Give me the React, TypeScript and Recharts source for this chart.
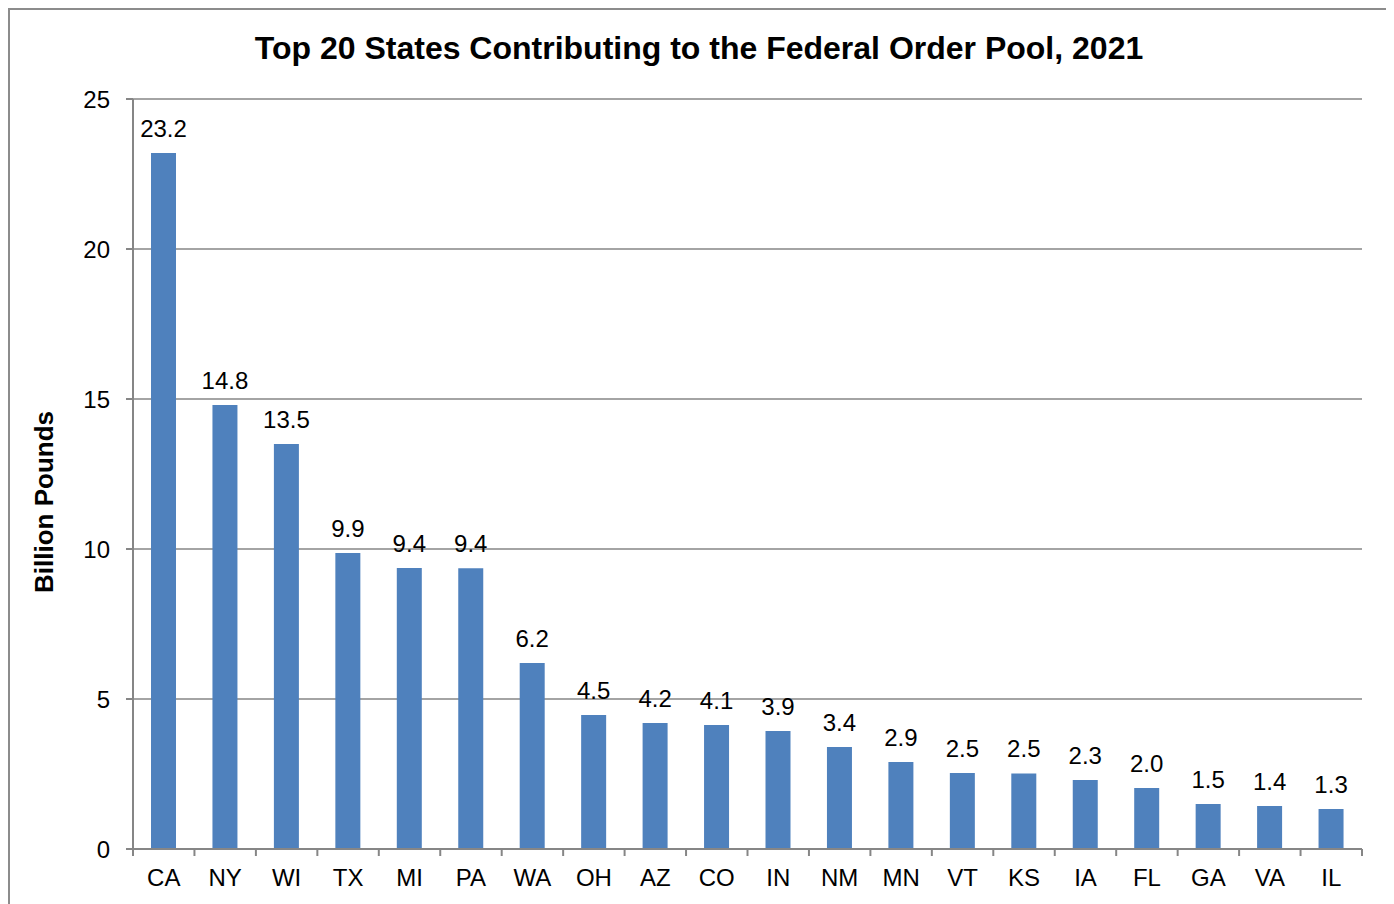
import { BarChart, Bar, CartesianGrid, XAxis, YAxis, LabelList } from "recharts";

const states = ["CA", "NY", "WI", "TX", "MI", "PA", "WA", "OH", "AZ", "CO", "IN", "NM", "MN", "VT", "KS", "IA", "FL", "GA", "VA", "IL"];
const pounds = [23.2, 14.8, 13.5, 9.87, 9.37, 9.36, 6.2, 4.47, 4.2, 4.13, 3.93, 3.4, 2.9, 2.53, 2.52, 2.3, 2.03, 1.5, 1.43, 1.33];
const yTicks = [0, 5, 10, 15, 20, 25];

const data = states.map((state, i) => ({ state, value: pounds[i] }));

const FONT = "'Liberation Sans', Arial, sans-serif";
const GRID = "#868686";
const PLOT_W = 1229;
const HALF_BAND = PLOT_W / states.length / 2;

function StateTick(props: any) {
  const { x, y, payload, index } = props;
  const last = index === states.length - 1;
  return (
    <g>
      <line x1={x - HALF_BAND} x2={x - HALF_BAND} y1={y - 8} y2={y - 1} stroke={GRID} strokeWidth={2} />
      {last && (
        <line x1={x + HALF_BAND} x2={x + HALF_BAND} y1={y - 8} y2={y - 1} stroke={GRID} strokeWidth={2} />
      )}
      <text x={x} y={y + 29} textAnchor="middle" fontSize={24} fontFamily={FONT} fill="#000">
        {payload.value}
      </text>
    </g>
  );
}

export default function App() {
  return (
    <div
      style={{
        position: "relative",
        width: 1378,
        height: 900,
        border: "2px solid #8c8c8c",
        background: "#fff",
        fontFamily: FONT,
      }}
    >
      <div
        style={{
          position: "absolute",
          top: 20,
          left: 0,
          width: "100%",
          textAlign: "center",
          fontSize: 32,
          fontWeight: "bold",
          color: "#000",
        }}
      >
        Top 20 States Contributing to the Federal Order Pool, 2021
      </div>
      <div
        style={{
          position: "absolute",
          left: 34 - 120,
          top: 492 - 15,
          width: 240,
          height: 30,
          lineHeight: "30px",
          textAlign: "center",
          transform: "rotate(-90deg)",
          fontSize: 26,
          fontWeight: "bold",
          color: "#000",
        }}
      >
        Billion Pounds
      </div>
      <BarChart
        width={1378}
        height={892}
        data={data}
        margin={{ top: 89, right: 26, left: 63, bottom: 13 }}
      >
        <CartesianGrid vertical={false} stroke={GRID} strokeWidth={1.5} />
        <XAxis
          dataKey="state"
          height={40}
          stroke={GRID}
          strokeWidth={2}
          tickLine={false}
          tick={<StateTick />}
          interval={0}
        />
        <YAxis
          width={60}
          domain={[0, 25]}
          ticks={yTicks}
          stroke={GRID}
          strokeWidth={2}
          tickSize={7}
          tickMargin={16}
          tick={{ fontSize: 24, fontFamily: FONT, fill: "#000" }}
          tickLine={{ stroke: GRID, strokeWidth: 2 }}
        />
        <Bar dataKey="value" fill="#4F81BD" barSize={25} isAnimationActive={false}>
          <LabelList
            dataKey="value"
            position="top"
            offset={16}
            formatter={(v: any) => Number(v).toFixed(1)}
            style={{ fontSize: 24, fontFamily: FONT, fill: "#000" }}
          />
        </Bar>
      </BarChart>
    </div>
  );
}
